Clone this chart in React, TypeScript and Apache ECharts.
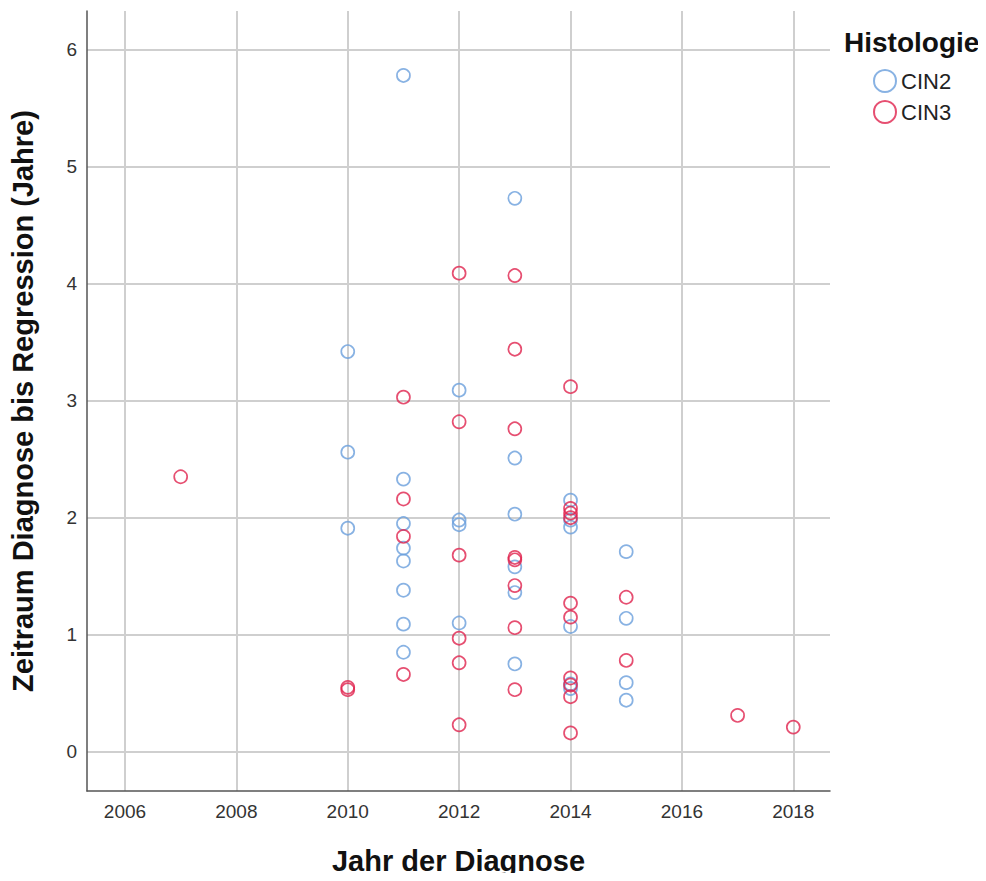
import React, { useEffect, useRef } from "react";
import * as echarts from "echarts";

const xTicks = [2006, 2008, 2010, 2012, 2014, 2016, 2018];
const yTicks = [0, 1, 2, 3, 4, 5, 6];

const cin2Years = [
  2010, 2010, 2010,
  2011, 2011, 2011, 2011, 2011, 2011, 2011, 2011,
  2012, 2012, 2012, 2012,
  2013, 2013, 2013, 2013, 2013, 2013,
  2014, 2014, 2014, 2014, 2014, 2014,
  2015, 2015, 2015, 2015,
];
const cin2Values = [
  3.42, 2.56, 1.91,
  5.78, 2.33, 1.95, 1.74, 1.63, 1.38, 1.09, 0.85,
  3.09, 1.98, 1.94, 1.1,
  4.73, 2.51, 2.03, 1.58, 1.36, 0.75,
  2.15, 1.98, 1.92, 1.07, 0.58, 0.54,
  1.71, 1.14, 0.59, 0.44,
];

const cin3Years = [
  2007,
  2010, 2010,
  2011, 2011, 2011, 2011,
  2012, 2012, 2012, 2012, 2012, 2012,
  2013, 2013, 2013, 2013, 2013, 2013, 2013, 2013,
  2014, 2014, 2014, 2014, 2014, 2014, 2014, 2014, 2014, 2014,
  2015, 2015,
  2017,
  2018,
];
const cin3Values = [
  2.35,
  0.55, 0.53,
  3.03, 2.16, 1.84, 0.66,
  4.09, 2.82, 1.68, 0.97, 0.76, 0.23,
  4.07, 3.44, 2.76, 1.66, 1.64, 1.42, 1.06, 0.53,
  3.12, 2.08, 2.04, 2.0, 1.27, 1.15, 0.63, 0.57, 0.47, 0.16,
  1.32, 0.78,
  0.31,
  0.21,
];

const FONT = "'Liberation Sans', Arial, sans-serif";
const BLUE = "#6a9fdc";
const RED = "#e0234e";

export default function App() {
  const ref = useRef<HTMLDivElement>(null);

  useEffect(() => {
    if (!ref.current) return;
    const chart = echarts.init(ref.current, null, { renderer: "svg" });
    const pairs = (xs: number[], ys: number[]) => xs.map((x, i) => [x, ys[i]]);
    chart.setOption({
      animation: false,
      backgroundColor: "#ffffff",
      textStyle: { fontFamily: FONT },
      title: {
        text: "Histologie",
        left: 839,
        top: 23,
        textStyle: { fontFamily: FONT, fontSize: 28, fontWeight: "bold", color: "#111" },
      },
      legend: {
        orient: "vertical",
        left: 868,
        top: 64,
        itemWidth: 22,
        itemHeight: 22,
        itemGap: 7,
        textStyle: { fontFamily: FONT, fontSize: 22, color: "#222" },
        data: [
          { name: "CIN2", icon: "circle", itemStyle: { color: "rgba(0,0,0,0)", borderColor: BLUE, borderWidth: 2 } },
          { name: "CIN3", icon: "circle", itemStyle: { color: "rgba(0,0,0,0)", borderColor: RED, borderWidth: 2 } },
        ],
      },
      grid: { left: 87, top: 11, right: 156, bottom: 90, containLabel: false },
      xAxis: {
        type: "value",
        min: 2005.318,
        max: 2018.659,
        name: "Jahr der Diagnose",
        nameLocation: "middle",
        nameGap: 55,
        nameTextStyle: { fontFamily: FONT, fontSize: 29, fontWeight: "bold", color: "#111" },
        axisLine: { show: true, onZero: false, lineStyle: { color: "#555", width: 1.5 } },
        axisTick: { show: false, customValues: xTicks },
        axisLabel: {
          customValues: xTicks,
          formatter: (v: number) => String(v),
          fontFamily: FONT,
          fontSize: 19,
          color: "#333",
          margin: 11,
        },
        splitLine: { show: true, lineStyle: { color: "#cfcfcf", width: 2 } },
      },
      yAxis: {
        type: "value",
        min: -0.336,
        max: 6.331,
        name: "Zeitraum Diagnose bis Regression (Jahre)",
        nameLocation: "middle",
        nameGap: 50,
        nameTextStyle: { fontFamily: FONT, fontSize: 29, fontWeight: "bold", color: "#111" },
        axisLine: { show: true, onZero: false, lineStyle: { color: "#555", width: 1.5 } },
        axisTick: { show: false, customValues: yTicks },
        axisLabel: {
          customValues: yTicks,
          fontFamily: FONT,
          fontSize: 19,
          color: "#333",
          margin: 10,
        },
        splitLine: { show: true, lineStyle: { color: "#cfcfcf", width: 2 } },
      },
      series: [
        {
          name: "CIN2",
          type: "scatter",
          symbol: "circle",
          symbolSize: 13,
          itemStyle: { color: "rgba(0,0,0,0)", borderColor: BLUE, borderWidth: 1.7 },
          data: pairs(cin2Years, cin2Values),
        },
        {
          name: "CIN3",
          type: "scatter",
          symbol: "circle",
          symbolSize: 13,
          itemStyle: { color: "rgba(0,0,0,0)", borderColor: RED, borderWidth: 1.7 },
          data: pairs(cin3Years, cin3Values),
        },
      ],
    });
    return () => chart.dispose();
  }, []);

  return <div ref={ref} style={{ width: 986, height: 881, margin: -8 }} />;
}
